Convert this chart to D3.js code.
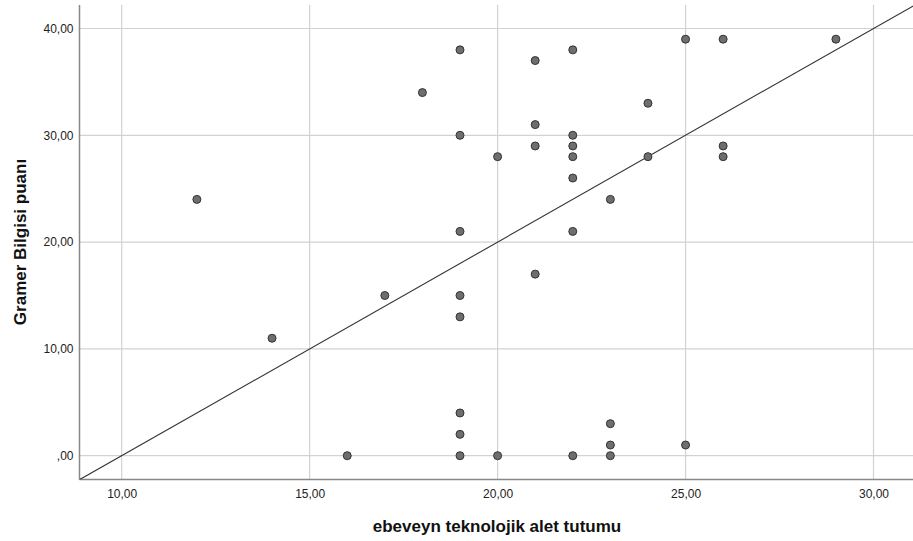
<!DOCTYPE html>
<html>
<head>
<meta charset="utf-8">
<script src="https://cdn.jsdelivr.net/npm/d3@7"></script>
<style>
  body { margin: 0; background: #fff; }
  svg { display: block; font-family: "Liberation Sans", Arial, sans-serif; }
</style>
</head>
<body>
<svg id="chart" width="913" height="541"></svg>
<script>
// Data
const xValues = [12, 14, 16, 17, 18,
  19, 19, 19, 19, 19, 19, 19, 19,
  20, 20,
  21, 21, 21, 21,
  22, 22, 22, 22, 22, 22, 22,
  23, 23, 23, 23,
  24, 24,
  25, 25,
  26, 26, 26,
  29];
const yValues = [24, 11, 0, 15, 34,
  38, 30, 21, 15, 13, 4, 2, 0,
  28, 0,
  37, 31, 29, 17,
  38, 30, 29, 28, 26, 21, 0,
  24, 3, 1, 0,
  33, 28,
  39, 1,
  39, 29, 28,
  39];
const xTicks = [10, 15, 20, 25, 30];
const yTicks = [0, 10, 20, 30, 40];
const refLine = [[8, -4], [32, 44]]; // line y = 2x - 20
const xTitle = "ebeveyn teknolojik alet tutumu";
const yTitle = "Gramer Bilgisi puanı";

const svg = d3.select("#chart");
const pL = 79.5, pR = 913, pT = 5, pB = 479.5;

const x = d3.scaleLinear().domain([10, 30]).range([121.7, 873.5]);
const y = d3.scaleLinear().domain([0, 40]).range([455.7, 28.5]);

const fmt = v => v === 0 ? ",00" : d3.format(".2f")(v).replace(".", ",");

// clip
svg.append("defs").append("clipPath").attr("id", "plotclip")
  .append("rect").attr("x", pL).attr("y", pT).attr("width", pR - pL).attr("height", pB - pT);

// gridlines
const grid = svg.append("g");
grid.selectAll("line.gx").data(xTicks).enter().append("line")
  .attr("x1", d => x(d)).attr("x2", d => x(d))
  .attr("y1", pT).attr("y2", pB)
  .attr("stroke", "#d2d2d2").attr("stroke-width", 1.2);
grid.selectAll("line.gy").data(yTicks).enter().append("line")
  .attr("x1", pL).attr("x2", pR)
  .attr("y1", d => y(d)).attr("y2", d => y(d))
  .attr("stroke", "#d2d2d2").attr("stroke-width", 1.2);

// axes
const xAxis = d3.axisBottom(x).tickValues(xTicks).tickFormat(fmt).tickSize(0).tickPadding(10);
const gx = svg.append("g").attr("transform", `translate(0,${pB})`).call(xAxis);
gx.select(".domain").remove();
gx.selectAll("text").attr("font-size", 12).attr("fill", "#222").attr("font-family", "Liberation Sans, Arial, sans-serif");

const yAxis = d3.axisLeft(y).tickValues(yTicks).tickFormat(fmt).tickSize(0).tickPadding(6);
const gy = svg.append("g").attr("transform", `translate(${pL},0)`).call(yAxis);
gy.select(".domain").remove();
gy.selectAll("text").attr("font-size", 12).attr("fill", "#222").attr("font-family", "Liberation Sans, Arial, sans-serif");

svg.append("line").attr("x1", pL).attr("x2", pR).attr("y1", pB).attr("y2", pB)
  .attr("stroke", "#888").attr("stroke-width", 1.5);
svg.append("line").attr("x1", pL).attr("x2", pL).attr("y1", pT).attr("y2", pB)
  .attr("stroke", "#888").attr("stroke-width", 1.5);

// reference line
svg.append("path")
  .attr("clip-path", "url(#plotclip)")
  .attr("d", d3.line().x(d => x(d[0])).y(d => y(d[1]))(refLine))
  .attr("fill", "none").attr("stroke", "#333").attr("stroke-width", 1.1);

// points
const pts = xValues.map((v, i) => [v, yValues[i]]);
svg.append("g").selectAll("circle").data(pts).enter().append("circle")
  .attr("cx", d => x(d[0])).attr("cy", d => y(d[1])).attr("r", 4)
  .attr("fill", "#6e6e6e").attr("stroke", "#333").attr("stroke-width", 1);

// titles
svg.append("text").attr("x", 497).attr("y", 531.5).attr("text-anchor", "middle")
  .attr("font-size", 17).attr("font-weight", "bold").attr("fill", "#111").text(xTitle);
svg.append("text").attr("transform", "translate(26,242) rotate(-90)").attr("text-anchor", "middle")
  .attr("font-size", 17).attr("font-weight", "bold").attr("fill", "#111").text(yTitle);
</script>
</body>
</html>
